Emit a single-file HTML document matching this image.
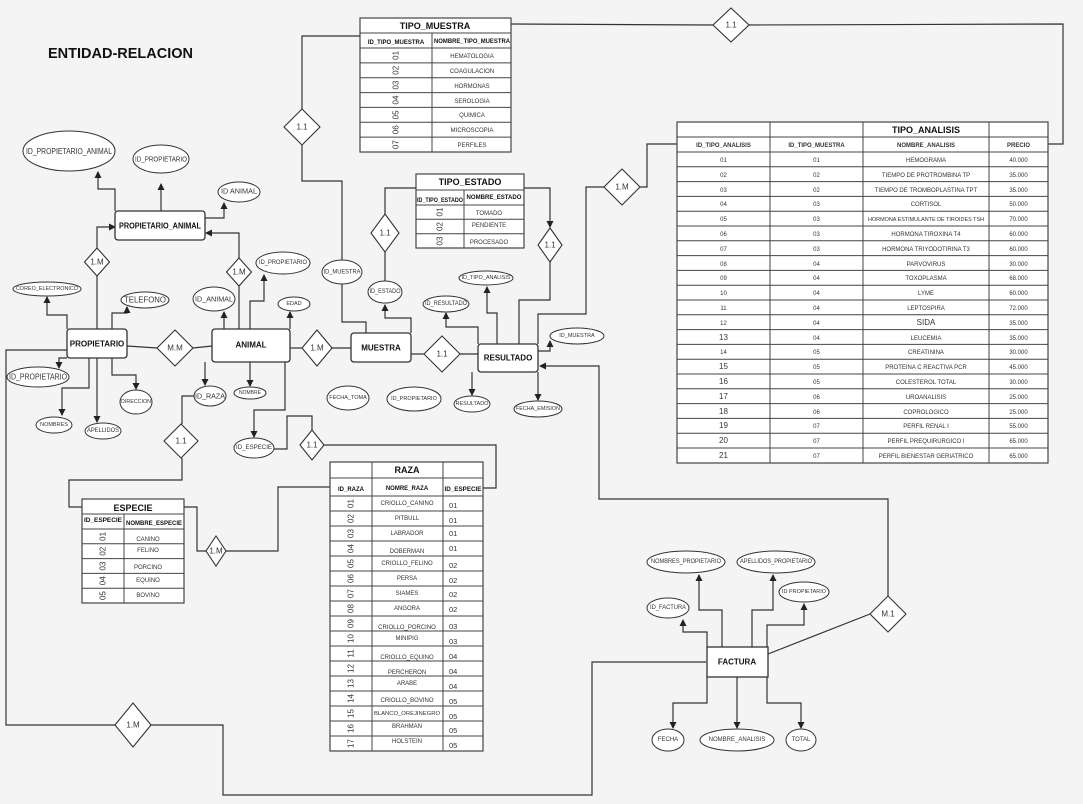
<!DOCTYPE html>
<html><head><meta charset="utf-8"><style>
html,body{margin:0;padding:0;background:#f4f4f4;}
svg{display:block;font-family:"Liberation Sans",sans-serif;}
.l{fill:none;stroke:#333;stroke-width:1.2;}
.d{fill:#fff;stroke:#333;stroke-width:1.1;}
.e{fill:#fff;stroke:#333;stroke-width:1;}
.b{fill:#fff;stroke:#333;stroke-width:1.3;}
.t{fill:#fff;stroke:#444;stroke-width:1.2;}
.g{stroke:#444;stroke-width:1;}
text{fill:#333;}
.bx{font-weight:bold;font-size:8px;text-anchor:middle;dominant-baseline:central;fill:#111;}
.et{text-anchor:middle;dominant-baseline:central;}
.c{text-anchor:middle;font-size:6px;}
.h{text-anchor:middle;font-size:9px;font-weight:bold;fill:#111;}
.sh{text-anchor:middle;font-size:6px;font-weight:bold;fill:#111;}
.r{text-anchor:middle;dominant-baseline:central;font-size:8px;}
</style></head><body>
<svg width="1083" height="804" viewBox="0 0 1083 804" xmlns="http://www.w3.org/2000/svg">
<defs><marker id="a" markerUnits="userSpaceOnUse" markerWidth="7" markerHeight="7" refX="6" refY="3.5" orient="auto"><path d="M0,0 L7,3.5 L0,7z" fill="#222"/></marker></defs>
<rect width="1083" height="804" fill="#f4f4f4"/>
<text x="48" y="58" font-size="15" font-weight="bold" textLength="145" lengthAdjust="spacingAndGlyphs" style="fill:#111">ENTIDAD-RELACION</text>

<!-- connectors -->
<g class="l">
<polyline points="115,211 115,189 98,189 98,172" marker-end="url(#a)"/>
<polyline points="161,211 161,184" marker-end="url(#a)"/>
<polyline points="205,218 224,218 224,203" marker-end="url(#a)"/>
<polyline points="97,329 97,276"/>
<polyline points="97,248 97,227 115,227" marker-end="url(#a)"/>
<polyline points="239,329 239,286"/>
<polyline points="239,258 239,233 206,233" marker-end="url(#a)"/>
<polyline points="250,329 250,301 264,301 264,275" marker-end="url(#a)"/>
<polyline points="224,329 224,312" marker-end="url(#a)"/>
<polyline points="290,329 290,312" marker-end="url(#a)"/>
<polyline points="127,346 157,348"/>
<polyline points="193,348 212,346"/>
<polyline points="67,329 67,315 47,315 47,297" marker-end="url(#a)"/>
<polyline points="112,329 112,313 127,313 127,307" marker-end="url(#a)"/>
<polyline points="67,358 59,358 59,368" marker-end="url(#a)"/>
<polyline points="89,358 89,388 62,388 62,415" marker-end="url(#a)"/>
<polyline points="97,358 97,422" marker-end="url(#a)"/>
<polyline points="112,358 112,375 136,375 136,389" marker-end="url(#a)"/>
<polyline points="67,350 6,350 6,725 115,725"/>
<polyline points="151,725 223,725 223,795 592,795 592,662 706,662"/>
<polyline points="205,362 205,385" marker-end="url(#a)"/>
<polyline points="250,362 250,386" marker-end="url(#a)"/>
<polyline points="285,362 285,410 254,410 254,437" marker-end="url(#a)"/>
<polyline points="194,396 182,396 182,424"/>
<polyline points="182,458 182,480 69,480 69,507 82,507"/>
<polyline points="184,507 197,507 197,551 206,551"/>
<polyline points="226,551 278,551 278,487 330,487"/>
<polyline points="274,449 287,449 287,416 312,416 312,430"/>
<polyline points="324,445 496,445 496,488 483,488"/>
<polyline points="290,348 302,348"/>
<polyline points="332,348 351,348"/>
<polyline points="360,36 302,36 302,109"/>
<polyline points="302,145 302,181 342,181 342,260"/>
<polyline points="342,284 342,322 366,322 366,333"/>
<polyline points="511,24 713,25"/>
<polyline points="749,25 1063,24 1063,144 1048,144"/>
<polyline points="416,188 385,188 385,214"/>
<polyline points="385,252 385,281"/>
<polyline points="411,333 411,318 385,318 385,305" marker-end="url(#a)"/>
<polyline points="524,188 550,188 550,227" marker-end="url(#a)"/>
<polyline points="550,262 550,300 519,300 519,344"/>
<polyline points="411,354 424,354"/>
<polyline points="460,354 478,354"/>
<polyline points="478,344 478,327 446,327 446,313" marker-end="url(#a)"/>
<polyline points="497,344 497,313 487,313 487,287" marker-end="url(#a)"/>
<polyline points="538,344 538,314 586,314 586,187 604,187"/>
<polyline points="640,187 647,187 647,144 677,144"/>
<polyline points="538,351 550,351 550,341" marker-end="url(#a)"/>
<polyline points="472,372 472,395" marker-end="url(#a)"/>
<polyline points="538,372 538,400" marker-end="url(#a)"/>
<polyline points="888,596 888,499 599,499 599,366 540,366" marker-end="url(#a)"/>
<polyline points="870,614 768,654"/>
<polyline points="707,647 707,632 683,632 683,620" marker-end="url(#a)"/>
<polyline points="722,647 722,610 699,610 699,575" marker-end="url(#a)"/>
<polyline points="752,647 752,610 773,610 773,575" marker-end="url(#a)"/>
<polyline points="767,647 767,625 804,625 804,604" marker-end="url(#a)"/>
<polyline points="707,677 707,703 673,703 673,728" marker-end="url(#a)"/>
<polyline points="737,677 737,728" marker-end="url(#a)"/>
<polyline points="767,677 767,703 801,703 801,728" marker-end="url(#a)"/>
</g>

<!-- diamonds -->
<g font-size="8">
<polygon class="d" points="97,248 109.5,262 97,276 84.5,262"/><text class="et" x="97" y="262">1.M</text>
<polygon class="d" points="239,258 251.5,272 239,286 226.5,272"/><text class="et" x="239" y="272">1.M</text>
<polygon class="d" points="175,330 193,348 175,366 157,348"/><text class="et" x="175" y="348">M.M</text>
<polygon class="d" points="317,330 332,348 317,366 302,348"/><text class="et" x="317" y="348">1.M</text>
<polygon class="d" points="133,703 151,725 133,747 115,725"/><text class="et" x="133" y="725">1.M</text>
<polygon class="d" points="181,424 198,441 181,458 164,441"/><text class="et" x="181" y="441">1.1</text>
<polygon class="d" points="216,536 226,551 216,566 206,551"/><text class="et" x="216" y="551">1.M</text>
<polygon class="d" points="312,430 324,445 312,460 300,445"/><text class="et" x="312" y="445">1.1</text>
<polygon class="d" points="302,109 320,127 302,145 284,127"/><text class="et" x="302" y="127">1.1</text>
<polygon class="d" points="731,8 749,25 731,42 713,25"/><text class="et" x="731" y="25">1.1</text>
<polygon class="d" points="385,214 399,233 385,252 371,233"/><text class="et" x="385" y="233">1.1</text>
<polygon class="d" points="550,228 562,245 550,262 538,245"/><text class="et" x="550" y="245">1.1</text>
<polygon class="d" points="442,336 460,354 442,372 424,354"/><text class="et" x="442" y="354">1.1</text>
<polygon class="d" points="622,169 640,187 622,205 604,187"/><text class="et" x="622" y="187">1.M</text>
<polygon class="d" points="888,596 906,614 888,632 870,614"/><text class="et" x="888" y="614">M.1</text>
</g>

<!-- entities -->
<rect class="b" x="115" y="211" width="90" height="29" rx="3"/><text class="bx" x="160" y="226" textLength="82" lengthAdjust="spacingAndGlyphs">PROPIETARIO_ANIMAL</text>
<rect class="b" x="67" y="329" width="60" height="29" rx="3"/><text class="bx" x="97" y="344">PROPIETARIO</text>
<rect class="b" x="212" y="329" width="78" height="33" rx="3"/><text class="bx" x="251" y="345">ANIMAL</text>
<rect class="b" x="351" y="333" width="60" height="29" rx="3"/><text class="bx" x="381" y="348">MUESTRA</text>
<rect class="b" x="478" y="344" width="60" height="28" rx="3"/><text class="bx" x="508" y="358">RESULTADO</text>
<rect class="b" x="707" y="647" width="61" height="30"/><text class="bx" x="737" y="662">FACTURA</text>

<!-- ellipses -->
<g>
<ellipse class="e" cx="69" cy="151" rx="46" ry="20"/><text class="et" x="69" y="151" font-size="8.5" textLength="86" lengthAdjust="spacingAndGlyphs">ID_PROPIETARIO_ANIMAL</text>
<ellipse class="e" cx="161" cy="159" rx="28" ry="14"/><text class="et" x="161" y="159" font-size="7.5" textLength="52" lengthAdjust="spacingAndGlyphs">ID_PROPIETARIO</text>
<ellipse class="e" cx="239" cy="192" rx="21" ry="10"/><text class="et" x="239" y="192" font-size="7" textLength="36" lengthAdjust="spacingAndGlyphs">ID ANIMAL</text>
<ellipse class="e" cx="283" cy="263" rx="27" ry="11"/><text class="et" x="283" y="263" font-size="6" textLength="48" lengthAdjust="spacingAndGlyphs">ID_PROPIETARIO</text>
<ellipse class="e" cx="214" cy="299" rx="21" ry="12"/><text class="et" x="214" y="299" font-size="7.5" textLength="38" lengthAdjust="spacingAndGlyphs">ID_ANIMAL</text>
<ellipse class="e" cx="294" cy="304" rx="16" ry="7"/><text class="et" x="294" y="304" font-size="5.5">EDAD</text>
<ellipse class="e" cx="47" cy="289" rx="34" ry="7"/><text class="et" x="47" y="289" font-size="5.5" textLength="62" lengthAdjust="spacingAndGlyphs">COREO_ELECTRONICO</text>
<ellipse class="e" cx="145" cy="300" rx="24" ry="8"/><text class="et" x="145" y="300" font-size="8" textLength="42" lengthAdjust="spacingAndGlyphs">TELEFONO</text>
<ellipse class="e" cx="38" cy="377" rx="31" ry="10"/><text class="et" x="38" y="377" font-size="8" textLength="58" lengthAdjust="spacingAndGlyphs">ID_PROPIETARIO</text>
<ellipse class="e" cx="54" cy="425" rx="18" ry="8"/><text class="et" x="54" y="425" font-size="5.5">NOMBRES</text>
<ellipse class="e" cx="103" cy="431" rx="18" ry="8"/><text class="et" x="103" y="431" font-size="6" textLength="32" lengthAdjust="spacingAndGlyphs">APELLIDOS</text>
<ellipse class="e" cx="136" cy="402" rx="16" ry="12"/><text class="et" x="136" y="402" font-size="5.5" textLength="30" lengthAdjust="spacingAndGlyphs">DIRECCION</text>
<ellipse class="e" cx="210" cy="396" rx="16" ry="10"/><text class="et" x="210" y="396" font-size="7.5" textLength="30" lengthAdjust="spacingAndGlyphs">ID_RAZA</text>
<ellipse class="e" cx="250" cy="393" rx="16" ry="6"/><text class="et" x="250" y="393" font-size="5">NOMBRE</text>
<ellipse class="e" cx="254" cy="448" rx="20" ry="10"/><text class="et" x="254" y="448" font-size="6" textLength="36" lengthAdjust="spacingAndGlyphs">ID_ESPECIE</text>
<ellipse class="e" cx="342" cy="272" rx="20" ry="12"/><text class="et" x="342" y="272" font-size="6.5" textLength="37" lengthAdjust="spacingAndGlyphs">ID_MUESTRA</text>
<ellipse class="e" cx="385" cy="292" rx="17" ry="11"/><text class="et" x="385" y="292" font-size="6" textLength="31" lengthAdjust="spacingAndGlyphs">ID_ESTADO</text>
<ellipse class="e" cx="348" cy="398" rx="21" ry="12"/><text class="et" x="348" y="398" font-size="5.5">FECHA_TOMA</text>
<ellipse class="e" cx="414" cy="399" rx="27" ry="12"/><text class="et" x="414" y="399" font-size="5.5">ID_PROPIETARIO</text>
<ellipse class="e" cx="446" cy="304" rx="23" ry="8"/><text class="et" x="446" y="304" font-size="6" textLength="42" lengthAdjust="spacingAndGlyphs">ID_RESULTADO</text>
<ellipse class="e" cx="486" cy="278" rx="27" ry="7"/><text class="et" x="486" y="278" font-size="5.5" textLength="49" lengthAdjust="spacingAndGlyphs">ID_TIPO_ANALISIS</text>
<ellipse class="e" cx="577" cy="336" rx="27" ry="8"/><text class="et" x="577" y="336" font-size="5.5">ID_MUESTRA</text>
<ellipse class="e" cx="472" cy="404" rx="18" ry="8"/><text class="et" x="472" y="404" font-size="5.5" textLength="33" lengthAdjust="spacingAndGlyphs">RESULTADO</text>
<ellipse class="e" cx="538" cy="409" rx="24" ry="8"/><text class="et" x="538" y="409" font-size="5.5" textLength="44" lengthAdjust="spacingAndGlyphs">FECHA_EMISION</text>
<ellipse class="e" cx="686" cy="562" rx="39" ry="11"/><text class="et" x="686" y="562" font-size="6" textLength="70" lengthAdjust="spacingAndGlyphs">NOMBRES_PROPIETARIO</text>
<ellipse class="e" cx="776" cy="562" rx="39" ry="11"/><text class="et" x="776" y="562" font-size="6" textLength="72" lengthAdjust="spacingAndGlyphs">APELLIDOS_PROPIETARIO</text>
<ellipse class="e" cx="804" cy="592" rx="25" ry="10"/><text class="et" x="804" y="592" font-size="5.5" textLength="44" lengthAdjust="spacingAndGlyphs">ID PROPIETARIO</text>
<ellipse class="e" cx="668" cy="608" rx="21" ry="10"/><text class="et" x="668" y="608" font-size="6" textLength="36" lengthAdjust="spacingAndGlyphs">ID_FACTURA</text>
<ellipse class="e" cx="668" cy="740" rx="16" ry="11"/><text class="et" x="668" y="740" font-size="6">FECHA</text>
<ellipse class="e" cx="737" cy="740" rx="37" ry="11"/><text class="et" x="737" y="740" font-size="6">NOMBRE_ANALISIS</text>
<ellipse class="e" cx="801" cy="740" rx="15" ry="11"/><text class="et" x="801" y="740" font-size="6">TOTAL</text>
</g>

<!-- TIPO_MUESTRA -->
<rect class="t" x="360" y="18" width="151" height="134"/>
<g class="g"><line x1="360" y1="33" x2="511" y2="33"/><line x1="360" y1="48" x2="511" y2="48"/>
<line x1="432" y1="33" x2="432" y2="152"/>
<line x1="360" y1="62.9" x2="511" y2="62.9"/><line x1="360" y1="77.7" x2="511" y2="77.7"/><line x1="360" y1="92.6" x2="511" y2="92.6"/><line x1="360" y1="107.4" x2="511" y2="107.4"/><line x1="360" y1="122.3" x2="511" y2="122.3"/><line x1="360" y1="137.1" x2="511" y2="137.1"/></g>
<text class="h" x="435" y="29">TIPO_MUESTRA</text>
<text class="sh" x="396" y="44">ID_TIPO_MUESTRA</text><text class="sh" x="472" y="43" textLength="76" lengthAdjust="spacingAndGlyphs">NOMBRE_TIPO_MUESTRA</text>
<g class="r">
<text transform="translate(396,55.4) rotate(-90)">01</text><text transform="translate(396,70.3) rotate(-90)">02</text><text transform="translate(396,85.1) rotate(-90)">03</text><text transform="translate(396,100) rotate(-90)">04</text><text transform="translate(396,114.9) rotate(-90)">05</text><text transform="translate(396,129.7) rotate(-90)">06</text><text transform="translate(396,144.6) rotate(-90)">07</text>
</g>
<g class="c"><text x="472" y="58">HEMATOLOGIA</text><text x="472" y="73">COAGULACION</text><text x="472" y="88">HORMONAS</text><text x="472" y="103">SEROLOGIA</text><text x="472" y="117">QUIMICA</text><text x="472" y="132">MICROSCOPIA</text><text x="472" y="147">PERFILES</text></g>

<!-- TIPO_ESTADO -->
<rect class="t" x="416" y="174" width="108" height="74"/>
<g class="g"><line x1="416" y1="190" x2="524" y2="190"/><line x1="416" y1="205" x2="524" y2="205"/><line x1="416" y1="219.3" x2="524" y2="219.3"/><line x1="416" y1="233.7" x2="524" y2="233.7"/><line x1="464" y1="190" x2="464" y2="248"/></g>
<text class="h" x="470" y="185">TIPO_ESTADO</text>
<text class="sh" x="440" y="202" font-size="5.5" textLength="46" lengthAdjust="spacingAndGlyphs">ID_TIPO_ESTADO</text><text class="sh" x="494" y="199" textLength="55" lengthAdjust="spacingAndGlyphs">NOMBRE_ESTADO</text>
<g class="r"><text transform="translate(440,212) rotate(-90)">01</text><text transform="translate(440,226.5) rotate(-90)">02</text><text transform="translate(440,241) rotate(-90)">03</text></g>
<g class="c" font-size="6.5"><text x="489" y="215">TOMADO</text><text x="489" y="227">PENDIENTE</text><text x="489" y="244">PROCESADO</text></g>

<!-- ESPECIE -->
<rect class="t" x="82" y="499" width="102" height="104"/>
<g class="g"><line x1="82" y1="514" x2="184" y2="514"/><line x1="82" y1="529" x2="184" y2="529"/><line x1="82" y1="543.8" x2="184" y2="543.8"/><line x1="82" y1="558.6" x2="184" y2="558.6"/><line x1="82" y1="573.4" x2="184" y2="573.4"/><line x1="82" y1="588.2" x2="184" y2="588.2"/><line x1="124" y1="514" x2="124" y2="603"/></g>
<text class="h" x="133" y="511">ESPECIE</text>
<text class="sh" x="103" y="522" textLength="38" lengthAdjust="spacingAndGlyphs">ID_ESPECIE</text><text class="sh" x="154" y="525" textLength="56" lengthAdjust="spacingAndGlyphs">NOMBRE_ESPECIE</text>
<g class="r"><text transform="translate(103,536.4) rotate(-90)">01</text><text transform="translate(103,551.2) rotate(-90)">02</text><text transform="translate(103,566) rotate(-90)">03</text><text transform="translate(103,580.8) rotate(-90)">04</text><text transform="translate(103,595.6) rotate(-90)">05</text></g>
<g class="c"><text x="148" y="541">CANINO</text><text x="148" y="552">FELINO</text><text x="148" y="569">PORCINO</text><text x="148" y="582">EQUINO</text><text x="148" y="597">BOVINO</text></g>

<!-- RAZA -->
<rect class="t" x="330" y="462" width="153" height="289"/>
<g class="g"><line x1="330" y1="478" x2="483" y2="478"/><line x1="330" y1="496" x2="483" y2="496"/>
<line x1="372" y1="462" x2="372" y2="751"/><line x1="443" y1="462" x2="443" y2="751"/>
<line x1="330" y1="511" x2="483" y2="511"/><line x1="330" y1="526" x2="483" y2="526"/><line x1="330" y1="541" x2="483" y2="541"/><line x1="330" y1="556" x2="483" y2="556"/><line x1="330" y1="571" x2="483" y2="571"/><line x1="330" y1="586" x2="483" y2="586"/><line x1="330" y1="601" x2="483" y2="601"/><line x1="330" y1="616" x2="483" y2="616"/><line x1="330" y1="631" x2="483" y2="631"/><line x1="330" y1="646" x2="483" y2="646"/><line x1="330" y1="661" x2="483" y2="661"/><line x1="330" y1="676" x2="483" y2="676"/><line x1="330" y1="691" x2="483" y2="691"/><line x1="330" y1="706" x2="483" y2="706"/><line x1="330" y1="721" x2="483" y2="721"/><line x1="330" y1="736" x2="483" y2="736"/></g>
<text class="h" x="407" y="473">RAZA</text>
<text class="sh" x="351" y="491" font-size="8">ID_RAZA</text><text class="sh" x="407" y="490">NOMRE_RAZA</text><text class="sh" x="463" y="491" font-size="6.5" textLength="37" lengthAdjust="spacingAndGlyphs">ID_ESPECIE</text>
<g class="r">
<text transform="translate(351,503.5) rotate(-90)">01</text><text transform="translate(351,518.5) rotate(-90)">02</text><text transform="translate(351,533.5) rotate(-90)">03</text><text transform="translate(351,548.5) rotate(-90)">04</text><text transform="translate(351,563.5) rotate(-90)">05</text><text transform="translate(351,578.5) rotate(-90)">06</text><text transform="translate(351,593.5) rotate(-90)">07</text><text transform="translate(351,608.5) rotate(-90)">08</text><text transform="translate(351,623.5) rotate(-90)">09</text><text transform="translate(351,638.5) rotate(-90)">10</text><text transform="translate(351,653.5) rotate(-90)">11</text><text transform="translate(351,668.5) rotate(-90)">12</text><text transform="translate(351,683.5) rotate(-90)">13</text><text transform="translate(351,698.5) rotate(-90)">14</text><text transform="translate(351,713.5) rotate(-90)">15</text><text transform="translate(351,728.5) rotate(-90)">16</text><text transform="translate(351,743.5) rotate(-90)">17</text>
</g>
<g class="c"><text x="407" y="505">CRIOLLO_CANINO</text><text x="407" y="520">PITBULL</text><text x="407" y="535">LABRADOR</text><text x="407" y="553">DOBERMAN</text><text x="407" y="565">CRIOLLO_FELINO</text><text x="407" y="580">PERSA</text><text x="407" y="595">SIAMES</text><text x="407" y="610">ANGORA</text><text x="407" y="629">CRIOLLO_PORCINO</text><text x="407" y="640">MINIPIG</text><text x="407" y="659">CRIOLLO_EQUINO</text><text x="407" y="674">PERCHERON</text><text x="407" y="685">ARABE</text><text x="407" y="702">CRIOLLO_BOVINO</text><text x="407" y="715" font-size="5.5" textLength="66" lengthAdjust="spacingAndGlyphs">BLANCO_OREJINEGRO</text><text x="407" y="728">BRAHMAN</text><text x="407" y="743">HOLSTEIN</text></g>
<g font-size="7.5"><text x="449" y="508">01</text><text x="449" y="523">01</text><text x="449" y="536">01</text><text x="449" y="551">01</text><text x="449" y="568">02</text><text x="449" y="583">02</text><text x="449" y="597">02</text><text x="449" y="612">02</text><text x="449" y="629">03</text><text x="449" y="644">03</text><text x="449" y="659">04</text><text x="449" y="674">04</text><text x="449" y="689">04</text><text x="449" y="704">05</text><text x="449" y="719">05</text><text x="449" y="733">05</text><text x="449" y="748">05</text></g>

<!-- TIPO_ANALISIS -->
<rect class="t" x="677" y="122" width="371" height="341"/>
<g class="g"><line x1="677" y1="137" x2="1048" y2="137"/><line x1="677" y1="152" x2="1048" y2="152"/>
<line x1="770" y1="122" x2="770" y2="463"/><line x1="863" y1="122" x2="863" y2="463"/><line x1="989" y1="122" x2="989" y2="463"/>
<line x1="677" y1="166.8" x2="1048" y2="166.8"/><line x1="677" y1="181.6" x2="1048" y2="181.6"/><line x1="677" y1="196.4" x2="1048" y2="196.4"/><line x1="677" y1="211.2" x2="1048" y2="211.2"/><line x1="677" y1="226" x2="1048" y2="226"/><line x1="677" y1="240.8" x2="1048" y2="240.8"/><line x1="677" y1="255.6" x2="1048" y2="255.6"/><line x1="677" y1="270.4" x2="1048" y2="270.4"/><line x1="677" y1="285.2" x2="1048" y2="285.2"/><line x1="677" y1="300" x2="1048" y2="300"/><line x1="677" y1="314.8" x2="1048" y2="314.8"/><line x1="677" y1="329.6" x2="1048" y2="329.6"/><line x1="677" y1="344.4" x2="1048" y2="344.4"/><line x1="677" y1="359.2" x2="1048" y2="359.2"/><line x1="677" y1="374" x2="1048" y2="374"/><line x1="677" y1="388.8" x2="1048" y2="388.8"/><line x1="677" y1="403.6" x2="1048" y2="403.6"/><line x1="677" y1="418.4" x2="1048" y2="418.4"/><line x1="677" y1="433.2" x2="1048" y2="433.2"/><line x1="677" y1="448" x2="1048" y2="448"/></g>
<text class="h" x="926" y="133">TIPO_ANALISIS</text>
<g class="sh"><text x="723.5" y="147">ID_TIPO_ANALISIS</text><text x="816.5" y="147">ID_TIPO_MUESTRA</text><text x="926" y="147">NOMBRE_ANALISIS</text><text x="1018.5" y="147">PRECIO</text></g>
<g class="c">
<text x="723.5" y="162">01</text><text x="723.5" y="177">02</text><text x="723.5" y="192">03</text><text x="723.5" y="206">04</text><text x="723.5" y="221">05</text><text x="723.5" y="236">06</text><text x="723.5" y="251">07</text><text x="723.5" y="266">08</text><text x="723.5" y="280">09</text><text x="723.5" y="295">10</text><text x="723.5" y="310">11</text><text x="723.5" y="325">12</text>
<g font-size="8"><text x="723.5" y="340">13</text></g><text x="723.5" y="354">14</text>
<g font-size="8"><text x="723.5" y="369">15</text><text x="723.5" y="384">16</text><text x="723.5" y="399">17</text><text x="723.5" y="414">18</text><text x="723.5" y="428">19</text><text x="723.5" y="443">20</text><text x="723.5" y="458">21</text></g>
<text x="816.5" y="162">01</text><text x="816.5" y="177">02</text><text x="816.5" y="192">02</text><text x="816.5" y="206">03</text><text x="816.5" y="221">03</text><text x="816.5" y="236">03</text><text x="816.5" y="251">03</text><text x="816.5" y="266">04</text><text x="816.5" y="280">04</text><text x="816.5" y="295">04</text><text x="816.5" y="310">04</text><text x="816.5" y="325">04</text><text x="816.5" y="340">04</text><text x="816.5" y="354">05</text><text x="816.5" y="369">05</text><text x="816.5" y="384">05</text><text x="816.5" y="399">06</text><text x="816.5" y="414">06</text><text x="816.5" y="428">07</text><text x="816.5" y="443">07</text><text x="816.5" y="458">07</text>
<text x="926" y="162">HEMOGRAMA</text><text x="926" y="177">TIEMPO DE PROTROMBINA TP</text><text x="926" y="192">TIEMPO DE TROMBOPLASTINA TPT</text><text x="926" y="206">CORTISOL</text><text x="926" y="221" font-size="5.6" textLength="116" lengthAdjust="spacingAndGlyphs">HORMONA ESTIMULANTE DE TIROIDES TSH</text><text x="926" y="236">HORMONA TIROXINA T4</text><text x="926" y="251">HORMONA TRIYODOTIRINA T3</text><text x="926" y="266">PARVOVIRUS</text><text x="926" y="280">TOXOPLASMA</text><text x="926" y="295">LYME</text><text x="926" y="310">LEPTOSPIRA</text><text x="926" y="325" font-size="8">SIDA</text><text x="926" y="340">LEUCEMIA</text><text x="926" y="354">CREATININA</text><text x="926" y="369">PROTEINA C REACTIVA PCR</text><text x="926" y="384">COLESTEROL TOTAL</text><text x="926" y="399">UROANALISIS</text><text x="926" y="414">COPROLOGICO</text><text x="926" y="428">PERFIL RENAL I</text><text x="926" y="443">PERFIL PREQUIRURGICO I</text><text x="926" y="458">PERFIL BIENESTAR GERIATRICO</text>
<text x="1018.5" y="162">40.000</text><text x="1018.5" y="177">35.000</text><text x="1018.5" y="192">35.000</text><text x="1018.5" y="206">50.000</text><text x="1018.5" y="221">70.000</text><text x="1018.5" y="236">60.000</text><text x="1018.5" y="251">60.000</text><text x="1018.5" y="266">30.000</text><text x="1018.5" y="280">68.000</text><text x="1018.5" y="295">60.000</text><text x="1018.5" y="310">72.000</text><text x="1018.5" y="325">35.000</text><text x="1018.5" y="340">35.000</text><text x="1018.5" y="354">30.000</text><text x="1018.5" y="369">45.000</text><text x="1018.5" y="384">30.000</text><text x="1018.5" y="399">25.000</text><text x="1018.5" y="414">25.000</text><text x="1018.5" y="428">55.000</text><text x="1018.5" y="443">65.000</text><text x="1018.5" y="458">65.000</text>
</g>
</svg>
</body></html>
